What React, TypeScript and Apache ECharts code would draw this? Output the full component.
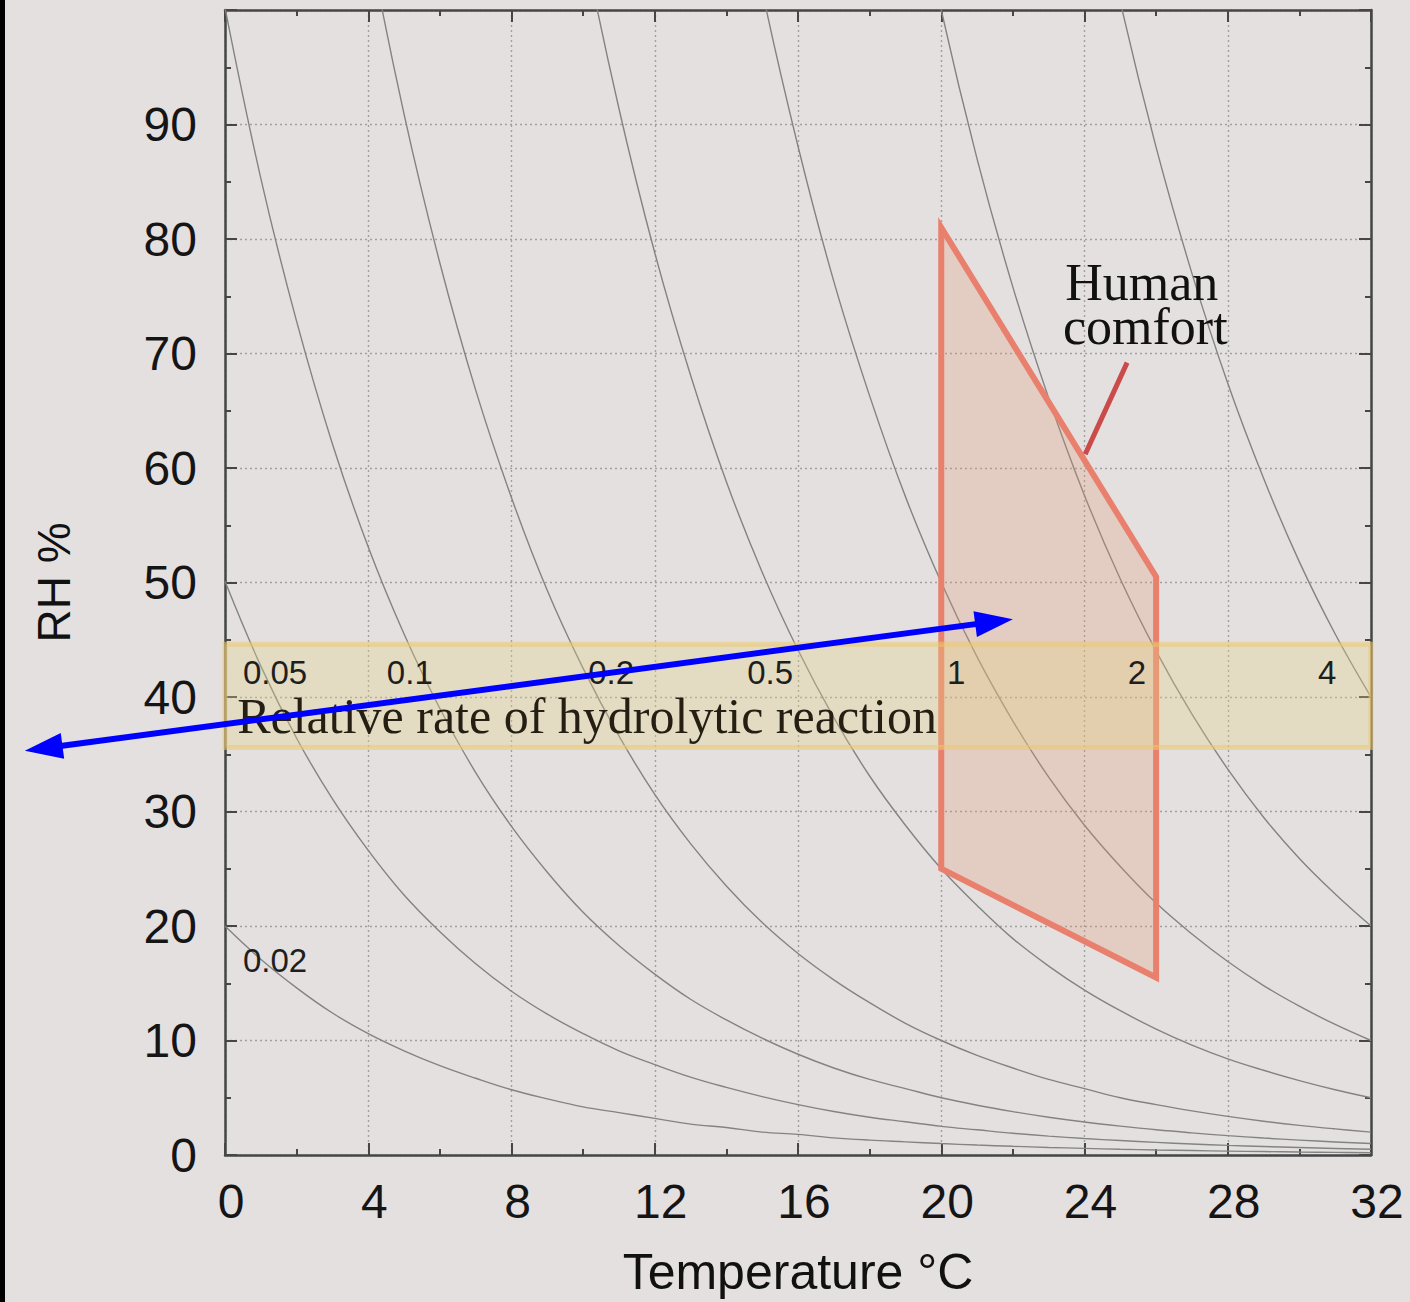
import React, { useEffect, useRef } from "react";
import * as echarts from "echarts";

// ---- data ----
const temperatures = [0, 1, 2, 3, 4, 5, 6, 7, 8, 9, 10, 11, 12, 13, 14, 15, 16, 17, 18, 19, 20, 21, 22, 23, 24, 25, 26, 27, 28, 29, 30, 31, 32];

const rh002 = [20.0, 17.1, 14.6, 12.4, 10.6, 9.1, 7.8, 6.7, 5.7, 4.9, 4.2, 3.7, 3.2, 2.7, 2.4, 2.0, 1.8, 1.5, 1.3, 1.15, 1.0, 0.87, 0.76, 0.66, 0.58, 0.5, 0.44, 0.39, 0.34, 0.3, 0.26, 0.23, 0.2];
const rh005 = [50.1, 42.7, 36.4, 31.1, 26.6, 22.7, 19.5, 16.7, 14.3, 12.3, 10.6, 9.1, 7.9, 6.8, 5.9, 5.1, 4.4, 3.8, 3.3, 2.9, 2.5, 2.2, 1.9, 1.65, 1.44, 1.26, 1.1, 0.96, 0.84, 0.74, 0.65, 0.57, 0.5];
const rh01 = [100.2, 85.3, 72.8, 62.1, 53.1, 45.5, 39.0, 33.4, 28.7, 24.7, 21.2, 18.3, 15.8, 13.6, 11.8, 10.2, 8.8, 7.6, 6.6, 5.8, 5.0, 4.35, 3.79, 3.3, 2.88, 2.52, 2.2, 1.93, 1.69, 1.48, 1.3, 1.14, 1.0];
const rh02 = [null, null, null, 124.3, 106.3, 90.9, 77.9, 66.8, 57.4, 49.3, 42.5, 36.6, 31.5, 27.2, 23.5, 20.3, 17.6, 15.3, 13.3, 11.5, 10.0, 8.7, 7.6, 6.6, 5.8, 5.0, 4.4, 3.85, 3.37, 2.95, 2.59, 2.28, 2.0];
const rh05 = [null, null, null, null, null, null, null, null, null, 123.3, 106.1, 91.4, 78.8, 68.1, 58.8, 50.9, 44.1, 38.2, 33.1, 28.8, 25.0, 21.8, 18.9, 16.5, 14.4, 12.6, 11.0, 9.6, 8.4, 7.4, 6.5, 5.7, 5.0];
const rh1 = [null, null, null, null, null, null, null, null, null, null, null, null, null, null, 117.6, 101.7, 88.1, 76.3, 66.3, 57.5, 50.0, 43.5, 37.9, 33.0, 28.8, 25.2, 22.0, 19.3, 16.9, 14.8, 13.0, 11.4, 10.0];
const rh2 = [null, null, null, null, null, null, null, null, null, null, null, null, null, null, null, null, null, null, null, 115.1, 100.0, 87.0, 75.8, 66.1, 57.6, 50.3, 44.0, 38.5, 33.7, 29.5, 25.9, 22.8, 20.0];
const rh4 = [null, null, null, null, null, null, null, null, null, null, null, null, null, null, null, null, null, null, null, null, null, null, null, null, 115.3, 100.7, 88.0, 77.0, 67.4, 59.1, 51.8, 45.5, 40.0];

const isopermCurves = [rh002, rh005, rh01, rh02, rh05, rh1, rh2, rh4];
const isopermLabels = ["0.02", "0.05", "0.1", "0.2", "0.5", "1", "2", "4"];
// label anchor (left edge, vertical centre) in data coords [T, RH]
const isopermLabelAnchors = [
  [0.5, 17.0],
  [0.5, 42.1],
  [4.52, 42.1],
  [10.14, 42.1],
  [14.58, 42.1],
  [20.16, 42.1],
  [25.21, 42.1],
  [30.52, 42.1],
];

const comfortZone = [
  [20, 81],
  [26, 50.5],
  [26, 15.5],
  [20, 25],
];
const bandRange = [35.6, 44.6];

const xTicks = [0, 4, 8, 12, 16, 20, 24, 28, 32];
const yTicks = [0, 10, 20, 30, 40, 50, 60, 70, 80, 90];

const SANS = '"Liberation Sans", Arial, Helvetica, sans-serif';
const SERIF = '"Liberation Serif", "Times New Roman", serif';
const FRAME = "#464646";

export default function App() {
  const ref = useRef<HTMLDivElement | null>(null);

  useEffect(() => {
    if (!ref.current) return;
    document.body.style.margin = "0";
    document.body.style.overflow = "hidden";
    document.documentElement.style.overflow = "hidden";
    const chart = echarts.init(ref.current, null, { renderer: "svg" });

    const curveSeries = isopermCurves.map((arr, k) => ({
      type: "line",
      name: "r" + isopermLabels[k],
      data: temperatures
        .map((t, i) => [t, arr[i]])
        .filter((d) => d[1] !== null),
      smooth: 0.4,
      symbol: "none",
      silent: true,
      clip: true,
      z: 2,
      lineStyle: { color: "#838383", width: 1.4 },
    }));

    const baseTick = {
      show: true,
      inside: true,
      length: 12,
      lineStyle: { color: FRAME, width: 2 },
    };
    const minor = { show: true, splitNumber: 2, length: 6, lineStyle: { color: FRAME, width: 2 } };
    const axisLine = { show: true, onZero: false, lineStyle: { color: FRAME, width: 2.5 } };
    const grid = { color: "#a0a0a0", type: [2, 3], width: 1.4 };

    const option: any = {
      animation: false,
      backgroundColor: "#e4e0e0",
      grid: { left: 225, top: 10, width: 1146, height: 1147, containLabel: false },
      xAxis: [
        {
          type: "value",
          min: 0,
          max: 32,
          interval: 4,
          position: "bottom",
          name: "Temperature °C",
          nameLocation: "middle",
          nameGap: 92,
          nameTextStyle: { fontSize: 50, lineHeight: 50, color: "#111", fontFamily: SANS },
          axisLine,
          axisTick: baseTick,
          minorTick: minor,
          axisLabel: {
            fontSize: 48,
            color: "#151515",
            fontFamily: SANS,
            margin: 22,
            padding: [0, 0, 0, 12],
            formatter: (v: number) => (xTicks.includes(v) ? String(v) : ""),
          },
          splitLine: { show: true, lineStyle: grid },
        },
        {
          type: "value",
          min: 0,
          max: 32,
          interval: 4,
          position: "top",
          axisLine,
          axisTick: baseTick,
          minorTick: minor,
          axisLabel: { show: false },
          splitLine: { show: false },
        },
      ],
      yAxis: [
        {
          type: "value",
          min: 0,
          max: 100,
          interval: 10,
          position: "left",
          name: "RH %",
          nameLocation: "middle",
          nameGap: 148,
          nameTextStyle: { fontSize: 46, color: "#111", fontFamily: SANS },
          axisLine,
          axisTick: baseTick,
          minorTick: minor,
          axisLabel: {
            fontSize: 48,
            color: "#151515",
            fontFamily: SANS,
            margin: 28,
            formatter: (v: number) => (yTicks.includes(v) ? String(v) : ""),
          },
          splitLine: { show: true, lineStyle: grid },
        },
        {
          type: "value",
          min: 0,
          max: 100,
          interval: 10,
          position: "right",
          axisLine,
          axisTick: baseTick,
          minorTick: minor,
          axisLabel: { show: false },
          splitLine: { show: false },
        },
      ],
      series: [
        ...curveSeries,
        {
          type: "custom",
          name: "comfort",
          silent: true,
          z: 3,
          data: [[comfortZone[0][0], comfortZone[0][1]]],
          renderItem: (params: any, api: any) => {
            const pts = comfortZone.map((p) => api.coord(p));
            return {
              type: "polygon",
              shape: { points: pts },
              style: {
                fill: "rgba(224,148,108,0.25)",
                stroke: "#e9806d",
                lineWidth: 6,
                lineJoin: "miter",
              },
            };
          },
        },
        {
          type: "custom",
          name: "band",
          silent: true,
          z: 4,
          data: [[0, bandRange[0]]],
          renderItem: (params: any, api: any) => {
            const a = api.coord([0, bandRange[1]]);
            const b = api.coord([32, bandRange[0]]);
            return {
              type: "rect",
              shape: { x: a[0], y: a[1], width: b[0] - a[0], height: b[1] - a[1] },
              style: {
                fill: "rgba(226,208,130,0.32)",
                stroke: "rgba(236,200,110,0.55)",
                lineWidth: 5,
              },
            };
          },
        },
        {
          type: "line",
          name: "pointer",
          data: [
            [25.19, 69.2],
            [24.02, 61.2],
          ],
          symbol: "none",
          silent: true,
          z: 5,
          lineStyle: { color: "#cb4a4a", width: 5 },
        },
      ],
    };

    chart.setOption(option);

    const px = (p: number[]) =>
      chart.convertToPixel({ xAxisIndex: 0, yAxisIndex: 0 }, p) as number[];

    const graphics: any[] = [];
    graphics.push({
      type: "rect",
      shape: { x: 0, y: 0, width: 5, height: 1302 },
      style: { fill: "#000" },
      z: 100,
    });

    isopermLabels.forEach((lab, k) => {
      const p = px(isopermLabelAnchors[k]);
      graphics.push({
        type: "text",
        x: p[0],
        y: p[1],
        z: 50,
        style: {
          text: lab,
          fontSize: 33,
          lineHeight: 24,
          fontFamily: SANS,
          fill: "#1e1e1e",
          align: "left",
          verticalAlign: "middle",
        },
      });
    });

    const bandText = px([0.34, 38.3]);
    graphics.push({
      type: "text",
      x: bandText[0],
      y: bandText[1],
      z: 50,
      style: {
        text: "Relative rate of hydrolytic reaction",
        fontSize: 50,
        lineHeight: 36,
        fontFamily: SERIF,
        fill: "#241f12",
        align: "left",
        verticalAlign: "middle",
      },
    });

    const h1 = px([23.46, 76.2]);
    const h2 = px([23.40, 72.4]);
    graphics.push({
      type: "text",
      x: h1[0],
      y: h1[1],
      z: 50,
      style: { text: "Human", fontSize: 52, lineHeight: 38, fontFamily: SERIF, fill: "#111", align: "left", verticalAlign: "middle" },
    });
    graphics.push({
      type: "text",
      x: h2[0],
      y: h2[1],
      z: 50,
      style: { text: "comfort", fontSize: 52, lineHeight: 38, fontFamily: SERIF, fill: "#111", align: "left", verticalAlign: "middle" },
    });

    // blue double-headed arrow
    const a1 = px([-5.59, 35.3]);
    const a2 = px([22.0, 46.8]);
    const dx = a2[0] - a1[0];
    const dy = a2[1] - a1[1];
    const len = Math.sqrt(dx * dx + dy * dy);
    const ux = dx / len;
    const uy = dy / len;
    const nx = -uy;
    const ny = ux;
    const L = 38;
    const W = 13;
    const b1 = [a1[0] + ux * L, a1[1] + uy * L];
    const b2 = [a2[0] - ux * L, a2[1] - uy * L];
    graphics.push({
      type: "line",
      z: 60,
      shape: { x1: b1[0] - ux * 4, y1: b1[1] - uy * 4, x2: b2[0] + ux * 4, y2: b2[1] + uy * 4 },
      style: { stroke: "#0000ff", lineWidth: 6 },
    });
    graphics.push({
      type: "polygon",
      z: 60,
      shape: { points: [a1, [b1[0] + nx * W, b1[1] + ny * W], [b1[0] - nx * W, b1[1] - ny * W]] },
      style: { fill: "#0000ff" },
    });
    graphics.push({
      type: "polygon",
      z: 60,
      shape: { points: [a2, [b2[0] + nx * W, b2[1] + ny * W], [b2[0] - nx * W, b2[1] - ny * W]] },
      style: { fill: "#0000ff" },
    });

    chart.setOption({ graphic: graphics });

    return () => {
      chart.dispose();
    };
  }, []);

  return (
    <div
      ref={ref}
      style={{ position: "absolute", left: 0, top: 0, width: 1410, height: 1302, overflow: "hidden" }}
    />
  );
}
